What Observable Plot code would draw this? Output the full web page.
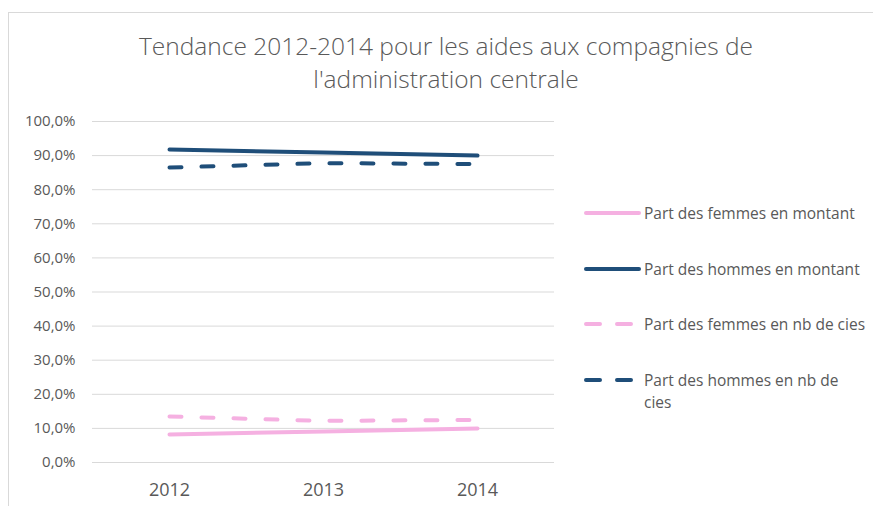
<!DOCTYPE html>
<html>
<head>
<meta charset="utf-8">
<script src="https://cdn.jsdelivr.net/npm/d3@7"></script>
<script src="https://cdn.jsdelivr.net/npm/@observablehq/plot@0.6"></script>
<style>
  html, body { margin: 0; padding: 0; background: #fff; }
  #wrap { position: relative; width: 873px; height: 506px; overflow: hidden; font-family: "Open Sans", sans-serif; color: #595959; }
  #frame { position: absolute; left: 8px; top: 12px; width: 900px; height: 600px; border-top: 1.5px solid #d9d9d9; border-left: 1.5px solid #d9d9d9; }
  #title { position: absolute; left: 0; width: 892px; top: 29px; text-align: center; font-size: 24.5px; line-height: 33px; font-weight: 300; color: #595959; }
  #chart { position: absolute; left: 0; top: 0; }
  .leg { position: absolute; left: 582px; font-size: 15.5px; line-height: 22px; color: #595959; }
  .leg svg { position: absolute; left: 0; top: 5px; }
  .leg span { position: absolute; left: 62px; top: 0; white-space: nowrap; width: 230px; }
</style>
</head>
<body>
<div id="wrap">
  <div id="frame"></div>
  <div id="chart"></div>
  <div id="title">Tendance 2012-2014 pour les aides aux compagnies de<br>l'administration centrale</div>
  <div id="legend"></div>
</div>
<script>
const years = ["2012", "2013", "2014"];
const femmesMontant = [0.082, 0.091, 0.100];
const hommesMontant = [0.918, 0.909, 0.900];
const femmesNb = [0.135, 0.122, 0.125];
const hommesNb = [0.865, 0.878, 0.875];
const seriesNames = [
  "Part des femmes en montant",
  "Part des hommes en montant",
  "Part des femmes en nb de cies",
  "Part des hommes en nb de cies"
];
const yTicks = [0, 0.1, 0.2, 0.3, 0.4, 0.5, 0.6, 0.7, 0.8, 0.9, 1.0];

const pink = "#f5b0e1";
const navy = "#1f4e79";
const styles = [
  {stroke: pink, dash: null},
  {stroke: navy, dash: null},
  {stroke: pink, dash: "12,20"},
  {stroke: navy, dash: "12,20"}
];
const allSeries = [femmesMontant, hommesMontant, femmesNb, hommesNb];

const data = [];
allSeries.forEach((vals, i) => vals.forEach((v, j) => data.push({series: seriesNames[i], year: years[j], value: v})));

const fmt = d => (d * 100).toFixed(1).replace(".", ",") + "%";

const lineMarks = seriesNames.map((name, i) =>
  Plot.line(data.filter(d => d.series === name), {
    x: "year", y: "value",
    stroke: styles[i].stroke, strokeWidth: 4,
    strokeDasharray: styles[i].dash, strokeLinecap: "round"
  })
);

const chart = Plot.plot({
  width: 873,
  height: 506,
  marginLeft: 92,
  marginRight: 319,
  marginTop: 121,
  marginBottom: 44,
  style: {fontFamily: "'Open Sans', sans-serif", color: "#595959", background: "transparent"},
  x: {type: "point", domain: years, padding: 0.5, label: null},
  y: {domain: [0, 1], label: null},
  marks: [
    Plot.gridY(yTicks, {stroke: "#d9d9d9", strokeOpacity: 1, strokeWidth: 1}),
    Plot.axisY(yTicks, {tickSize: 0, tickPadding: 17, tickFormat: fmt, fontSize: 15, fill: "#595959", label: null}),
    Plot.axisX({tickSize: 0, tickPadding: 21, fontSize: 18, fill: "#595959", label: null}),
    ...lineMarks
  ]
});
document.getElementById("chart").appendChild(chart);

// legend
const legendTops = [202, 258, 313, 369];
const legend = document.getElementById("legend");
seriesNames.forEach((name, i) => {
  const div = document.createElement("div");
  div.className = "leg";
  div.style.top = legendTops[i] + "px";
  const dash = styles[i].dash ? 'stroke-dasharray="14,17"' : "";
  div.innerHTML = `<svg width="62" height="12"><line x1="4" y1="6" x2="57" y2="6" stroke="${styles[i].stroke}" stroke-width="4" stroke-linecap="round" ${dash}/></svg>` +
    `<span>${i === 3 ? "Part des hommes en nb de<br>cies" : name}</span>`;
  legend.appendChild(div);
});
</script>
</body>
</html>
